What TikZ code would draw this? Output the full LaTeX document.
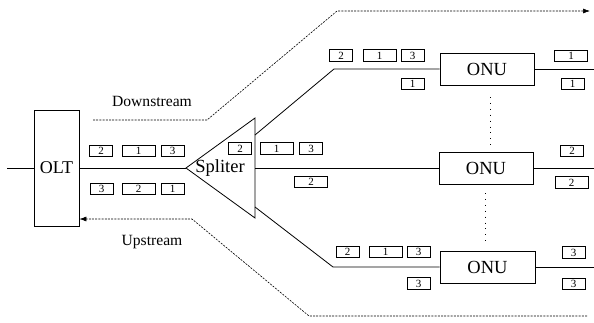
\documentclass[tikz,border=0pt]{standalone}
\usepackage{fontspec}
\setmainfont{Liberation Serif}
\usetikzlibrary{arrows.meta}
\begin{document}
\begin{tikzpicture}[x=1pt,y=-1pt,
  line width=0.8pt,
  box/.style={draw,inner sep=0pt,font=\fontsize{18.5}{20}\selectfont},
  pkt/.style={draw,line width=0.7pt,inner sep=0pt,minimum height=11.5pt,minimum width=23pt,font=\fontsize{11}{11}\selectfont},
  wpkt/.style={pkt,minimum width=33pt},
  lbl/.style={font=\fontsize{15.6}{17}\selectfont},
  flow/.style={line width=0.6pt,dash pattern=on 2pt off 1.2pt},
  dots/.style={line width=0.9pt,dash pattern=on 0.9pt off 5pt}]
\useasboundingbox (0,0) rectangle (594,322);
% OLT
\node[box,minimum width=45pt,minimum height=116pt] (olt) at (56.5,168) {};
\node[font=\fontsize{18}{20}\selectfont] (oltt) at (56.5,168) {OLT};
\coordinate (in) at (7,168);
\draw (in) -- (olt.west |- in);
% splitter
\coordinate (tip) at (186,168);
\coordinate (st) at (255,118);
\coordinate (sb) at (255,218);
\coordinate (s1) at (255,135);
\coordinate (s2) at (255,168);
\coordinate (s3) at (255,207);
\draw (tip) -- (st) -- (sb) -- cycle;
\node[font=\fontsize{18.5}{20}\selectfont] (spl) at (220,168) {Spliter};
\draw (olt.east |- tip) -- (tip);
% ONUs
\node[box,minimum width=94pt,minimum height=32pt] (onu1) at (487,69) {ONU};
\node[box,minimum width=94pt,minimum height=32pt] (onu2) at (486,168) {ONU};
\node[box,minimum width=95pt,minimum height=32pt] (onu3) at (487.5,267) {ONU};
\coordinate (b1) at (334,69);
\coordinate (b3) at (333,267);
\draw (s1) -- (b1) -- (onu1.west);
\draw (s2) -- (onu2.west);
\draw (s3) -- (b3) -- (onu3.west);
\coordinate (r1) at (594,69);
\coordinate (r2) at (594,168);
\coordinate (r3) at (594,267);
\draw (onu1.east) -- (r1);
\draw (onu2.east) -- (r2);
\draw (onu3.east) -- (r3);
% dotted
\coordinate (d1a) at (490,97); \coordinate (d1b) at (490,146);
\coordinate (d2a) at (485,193); \coordinate (d2b) at (485,244);
\draw[dots] (d1a) -- (d1b);
\draw[dots] (d2a) -- (d2b);
% downstream
\coordinate (da) at (93,120);
\coordinate (db) at (207,120);
\coordinate (dc) at (337,11);
\coordinate (dd) at (590,11);
\draw[flow,-{Latex[length=7pt,width=5pt]}] (da) -- (db) -- (dc) -- (dd);
\node[lbl] (down) at (152,101) {Downstream};
% upstream
\coordinate (ua) at (587,316);
\coordinate (ub) at (309,316);
\coordinate (uc) at (192,219);
\draw[flow,-{Latex[length=7pt,width=5pt]}] (ua) -- (ub) -- (uc) -- (olt.east |- uc);
\node[lbl] (up) at (152,242) {Upstream};
% packets left
\node[pkt] (p1) at (101,151) {2};
\node[wpkt] (p2) at (138.5,151) {1};
\node[pkt] (p3) at (172.5,151) {3};
\node[pkt] (p4) at (101.5,189) {3};
\node[wpkt] (p5) at (138.5,189) {2};
\node[pkt] (p6) at (172.5,189) {1};
% packets after splitter
\node[pkt] (p7) at (240,148.5) {2};
\node[wpkt] (p8) at (276.5,148.5) {1};
\node[pkt] (p9) at (311,148.5) {3};
\node[wpkt] (p10) at (311,182) {2};
% top branch
\node[pkt] (p11) at (341,55.5) {2};
\node[wpkt] (p12) at (379.5,55.5) {1};
\node[pkt] (p13) at (412.5,55.5) {3};
\node[pkt] (p14) at (412.5,84) {1};
\node[wpkt] (p15) at (571,56) {1};
\node[pkt] (p16) at (572.5,84) {1};
% middle right
\node[pkt] (p17) at (572,151) {2};
\node[wpkt] (p18) at (571.5,182.5) {2};
% bottom branch
\node[pkt] (p19) at (347.5,252) {2};
\node[wpkt] (p20) at (385.5,252) {1};
\node[pkt] (p21) at (418.5,252) {3};
\node[pkt] (p22) at (418.5,283.5) {3};
\node[pkt] (p23) at (573.5,252.5) {3};
\node[pkt] (p24) at (573.5,284) {3};
\end{tikzpicture}
\end{document}
